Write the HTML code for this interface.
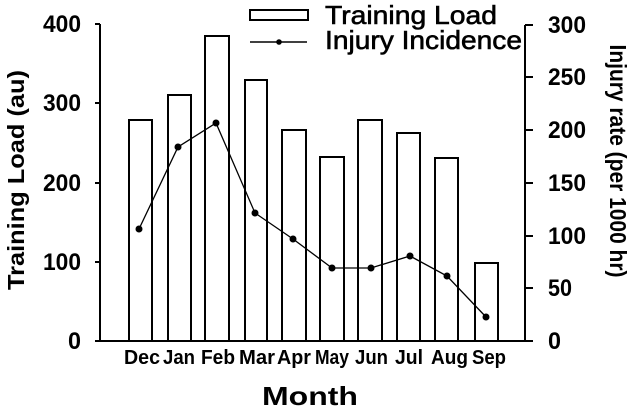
<!DOCTYPE html>
<html><head><meta charset="utf-8"><style>
html,body{margin:0;padding:0;background:#fff;}
svg{display:block;}
text{font-family:"Liberation Sans",Arial,sans-serif;font-weight:bold;fill:#000;}
text.n{font-weight:normal;stroke:#000;stroke-width:0.6px;}
</style></head><body>
<svg width="633" height="410" viewBox="0 0 633 410">
<g stroke="#000" stroke-width="2" fill="none">
<line x1="100" y1="24" x2="100" y2="341"/>
<line x1="525" y1="25" x2="525" y2="341"/>
<line x1="99" y1="341" x2="533" y2="341"/>
<line x1="95" y1="24" x2="100" y2="24"/>
<line x1="95" y1="103" x2="100" y2="103"/>
<line x1="95" y1="183" x2="100" y2="183"/>
<line x1="95" y1="262" x2="100" y2="262"/>
<line x1="95" y1="341" x2="100" y2="341"/>
<line x1="525" y1="25" x2="533" y2="25"/>
<line x1="525" y1="77" x2="533" y2="77"/>
<line x1="525" y1="130" x2="533" y2="130"/>
<line x1="525" y1="183" x2="533" y2="183"/>
<line x1="525" y1="236" x2="533" y2="236"/>
<line x1="525" y1="288" x2="533" y2="288"/>
<rect x="129" y="120" width="23" height="221"/>
<rect x="168" y="95" width="23" height="246"/>
<rect x="205" y="36" width="24" height="305"/>
<rect x="245" y="80" width="22" height="261"/>
<rect x="282" y="130" width="24" height="211"/>
<rect x="320" y="157" width="24" height="184"/>
<rect x="358" y="120" width="24" height="221"/>
<rect x="397" y="133" width="23" height="208"/>
<rect x="435" y="158" width="23" height="183"/>
<rect x="475" y="263" width="23" height="78"/>
<polyline stroke-width="1.3" points="139,229 178,147 216,123 255,213 293,239 332,268 371,268 410,256 447,276 486,317"/>
<rect x="250" y="10" width="58" height="10" fill="#fff"/>
<line x1="250" y1="42" x2="307" y2="42" stroke-width="1.5"/>
</g>
<g fill="#000">
<circle cx="139" cy="229" r="3.5"/><circle cx="178" cy="147" r="3.5"/><circle cx="216" cy="123" r="3.5"/>
<circle cx="255" cy="213" r="3.5"/><circle cx="293" cy="239" r="3.5"/><circle cx="332" cy="268" r="3.5"/>
<circle cx="371" cy="268" r="3.5"/><circle cx="410" cy="256" r="3.5"/><circle cx="447" cy="276" r="3.5"/>
<circle cx="486" cy="317" r="3.5"/><circle cx="279" cy="42" r="2.8"/>
</g>
<text class="n" x="325" y="24" font-size="26" textLength="172" lengthAdjust="spacingAndGlyphs">Training Load</text>
<text class="n" x="325" y="49" font-size="26" textLength="197" lengthAdjust="spacingAndGlyphs">Injury Incidence</text>
<g font-size="24">
<text x="43" y="32" textLength="38" lengthAdjust="spacingAndGlyphs">400</text>
<text x="43" y="111" textLength="38" lengthAdjust="spacingAndGlyphs">300</text>
<text x="43" y="191" textLength="38" lengthAdjust="spacingAndGlyphs">200</text>
<text x="43" y="270" textLength="38" lengthAdjust="spacingAndGlyphs">100</text>
<text x="68" y="349" textLength="13" lengthAdjust="spacingAndGlyphs">0</text>
</g>
<g font-size="24">
<text x="548" y="33" textLength="38" lengthAdjust="spacingAndGlyphs">300</text>
<text x="548" y="85" textLength="38" lengthAdjust="spacingAndGlyphs">250</text>
<text x="548" y="138" textLength="38" lengthAdjust="spacingAndGlyphs">200</text>
<text x="548" y="191" textLength="38" lengthAdjust="spacingAndGlyphs">150</text>
<text x="548" y="244" textLength="38" lengthAdjust="spacingAndGlyphs">100</text>
<text x="548" y="296" textLength="24" lengthAdjust="spacingAndGlyphs">50</text>
<text x="548" y="349" textLength="13" lengthAdjust="spacingAndGlyphs">0</text>
</g>
<g font-size="20">
<text x="124" y="364" textLength="36" lengthAdjust="spacingAndGlyphs">Dec</text>
<text x="163" y="364" textLength="32" lengthAdjust="spacingAndGlyphs">Jan</text>
<text x="201" y="364" textLength="34" lengthAdjust="spacingAndGlyphs">Feb</text>
<text x="239" y="364" textLength="36" lengthAdjust="spacingAndGlyphs">Mar</text>
<text x="277" y="364" textLength="34" lengthAdjust="spacingAndGlyphs">Apr</text>
<text x="315" y="364" textLength="34" lengthAdjust="spacingAndGlyphs">May</text>
<text x="355" y="364" textLength="33" lengthAdjust="spacingAndGlyphs">Jun</text>
<text x="395" y="364" textLength="28" lengthAdjust="spacingAndGlyphs">Jul</text>
<text x="431" y="364" textLength="37" lengthAdjust="spacingAndGlyphs">Aug</text>
<text x="472" y="364" textLength="34" lengthAdjust="spacingAndGlyphs">Sep</text>
</g>
<text x="262" y="405" font-size="26" textLength="96" lengthAdjust="spacingAndGlyphs">Month</text>
<text transform="translate(24,180) rotate(-90)" font-size="23" text-anchor="middle" textLength="220" lengthAdjust="spacingAndGlyphs">Training Load (au)</text>
<text transform="translate(610,161) rotate(90)" font-size="23" text-anchor="middle" textLength="233" lengthAdjust="spacingAndGlyphs">Injury rate (per 1000 hr)</text>
</svg>
</body></html>
